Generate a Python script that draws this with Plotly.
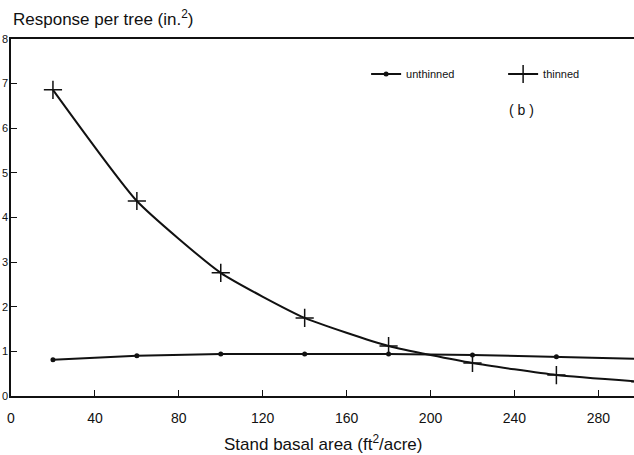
import plotly.graph_objects as go

x_vals = [20, 60, 100, 140, 180, 220, 260, 300]
unthinned = [0.81, 0.90, 0.94, 0.94, 0.94, 0.92, 0.88, 0.83]
thinned = [6.86, 4.37, 2.76, 1.75, 1.12, 0.74, 0.47, 0.32]
x_ticks = [0, 40, 80, 120, 160, 200, 240, 280]
y_ticks = [0, 1, 2, 3, 4, 5, 6, 7, 8]

FONT = "Liberation Sans, Arial, Helvetica, sans-serif"
INK = "#111111"

fig = go.Figure()
fig.add_trace(go.Scatter(
    x=x_vals, y=unthinned, name="unthinned", mode="lines+markers",
    line=dict(color=INK, width=2),
    marker=dict(symbol="circle", size=5, color=INK),
    cliponaxis=True,
))
fig.add_trace(go.Scatter(
    x=x_vals, y=thinned, name="thinned", mode="lines+markers",
    line=dict(color=INK, width=2, shape="spline", smoothing=0.5),
    marker=dict(symbol="cross-thin", size=13, line=dict(color=INK, width=1.5)),
    cliponaxis=True,
))

fig.update_layout(
    width=634, height=455,
    margin=dict(l=11, r=0, t=39, b=59, autoexpand=False),
    paper_bgcolor="white", plot_bgcolor="white",
    font=dict(family=FONT, color=INK, size=14),
    showlegend=True,
    legend=dict(
        orientation="h", x=0.57, y=0.902, xanchor="left", yanchor="middle",
        font=dict(size=11, family=FONT, color=INK),
        bgcolor="rgba(0,0,0,0)", entrywidth=92, entrywidthmode="pixels",
    ),
    xaxis=dict(
        range=[0, 297], tickvals=x_ticks, ticktext=[str(v) for v in x_ticks],
        ticks="inside", ticklen=6, tickwidth=1.2, tickcolor=INK,
        showline=True, linecolor=INK, linewidth=1.5, mirror=True,
        showgrid=False, zeroline=False, automargin=False,
        tickfont=dict(size=14, family=FONT, color=INK), ticklabelstandoff=8,
    ),
    yaxis=dict(
        range=[0, 8], tickvals=y_ticks, ticktext=[str(v) for v in y_ticks],
        ticks="inside", ticklen=6, tickwidth=1.2, tickcolor=INK,
        showline=True, linecolor=INK, linewidth=1.5,
        showgrid=False, zeroline=False, automargin=False,
        tickfont=dict(size=11, family=FONT, color=INK), ticklabelstandoff=-1,
    ),
    annotations=[
        dict(text="Response per tree (in.<sup>2</sup>)", xref="paper", yref="paper",
             x=0.0, y=1.059, xanchor="left", yanchor="middle", showarrow=False,
             font=dict(size=17, family=FONT, color=INK)),
        dict(text="Stand basal area (ft<sup>2</sup>/acre)", xref="paper", yref="paper",
             x=0.5, y=-0.132, xanchor="center", yanchor="middle", showarrow=False,
             font=dict(size=17, family=FONT, color=INK)),
        dict(text="( b )", xref="paper", yref="paper",
             x=0.82, y=0.80, xanchor="center", yanchor="middle", showarrow=False,
             font=dict(size=14, family=FONT, color=INK)),
    ],
)

fig.write_html("out.html")
